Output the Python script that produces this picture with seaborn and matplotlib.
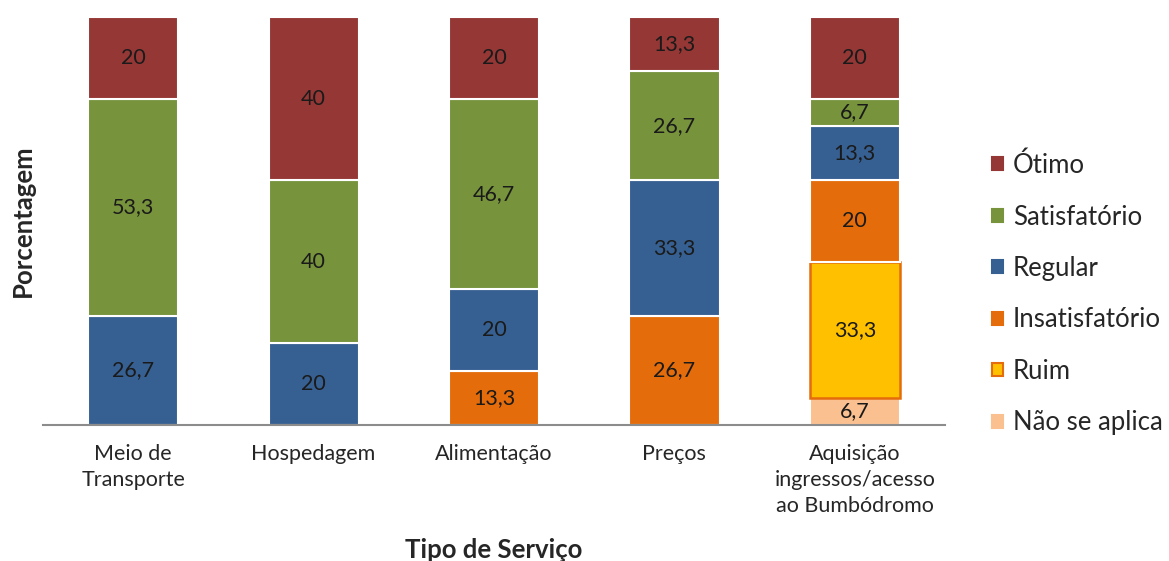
import matplotlib
matplotlib.use("Agg")
import matplotlib.pyplot as plt
import seaborn as sns
from matplotlib.patches import Patch

# ---------------------------
# Data
# ---------------------------
categories = [
    "Meio de\nTransporte",
    "Hospedagem",
    "Alimentação",
    "Preços",
    "Aquisição\ningressos/acesso\nao Bumbódromo",
]

# stacked from bottom to top
series = ["Não se aplica", "Ruim", "Insatisfatório", "Regular", "Satisfatório", "Ótimo"]
nao_se_aplica = [0, 0, 0, 0, 6.7]
ruim = [0, 0, 0, 0, 33.3]
insatisfatorio = [0, 0, 13.3, 26.7, 20]
regular = [26.7, 20, 20, 33.3, 13.3]
satisfatorio = [53.3, 40, 46.7, 26.7, 6.7]
otimo = [20, 40, 20, 13.3, 20]

values = [nao_se_aplica, ruim, insatisfatorio, regular, satisfatorio, otimo]
colors = ["#FAC090", "#FFC000", "#E46C0A", "#376092", "#77933C", "#953735"]
edges = ["white", "#E46C0A", "white", "white", "white", "white"]

# ---------------------------
# Plot
# ---------------------------
sns.set_style("white")
plt.rcParams["font.family"] = ["Lato", "DejaVu Sans"]

fig = plt.figure(figsize=(11.69, 5.61), dpi=100)
ax = fig.add_axes([0.0368, 0.2424, 0.7716, 0.7273])

bottom = [0] * len(categories)
for name, vals, col, ec in zip(series, values, colors, edges):
    sns.barplot(x=categories, y=vals, color=col, saturation=1, width=0.5, errorbar=None,
                bottom=bottom, edgecolor=ec, linewidth=1.8 if ec != "white" else 1.5,
                ax=ax)
    cont = ax.containers[-1]
    labels = [("%g" % v).replace(".", ",") if v > 0 else "" for v in vals]
    ax.bar_label(cont, labels=labels, label_type="center", fontsize=15.5, color="#1a1a1a")
    bottom = [b + v for b, v in zip(bottom, vals)]

ax.set_ylim(0, 100)
ax.set_xlim(-0.5, 4.5)
ax.set_yticks([])
ax.tick_params(axis="x", labelsize=15.5, colors="#262626", length=0, pad=14)
for t in ax.get_xticklabels():
    t.set_linespacing(1.35)
for s in ["top", "right", "left"]:
    ax.spines[s].set_visible(False)
ax.spines["bottom"].set_color("#8c8c8c")
ax.spines["bottom"].set_linewidth(1.5)

ax.set_xlabel("Tipo de Serviço", fontsize=18.5, fontweight="bold", labelpad=16)
ax.set_ylabel("Porcentagem", fontsize=18.5, fontweight="bold", labelpad=6)

handles = [Patch(facecolor=c, edgecolor=(e if e != "white" else c), linewidth=1.5)
           for c, e in zip(colors, edges)]
fig.legend(handles[::-1], series[::-1], loc="center left", bbox_to_anchor=(0.829, 0.476),
           frameon=False, fontsize=18.5, handlelength=0.4, handleheight=0.4,
           handletextpad=0.4, labelspacing=1.03)

fig.savefig("out.png", dpi=100)
